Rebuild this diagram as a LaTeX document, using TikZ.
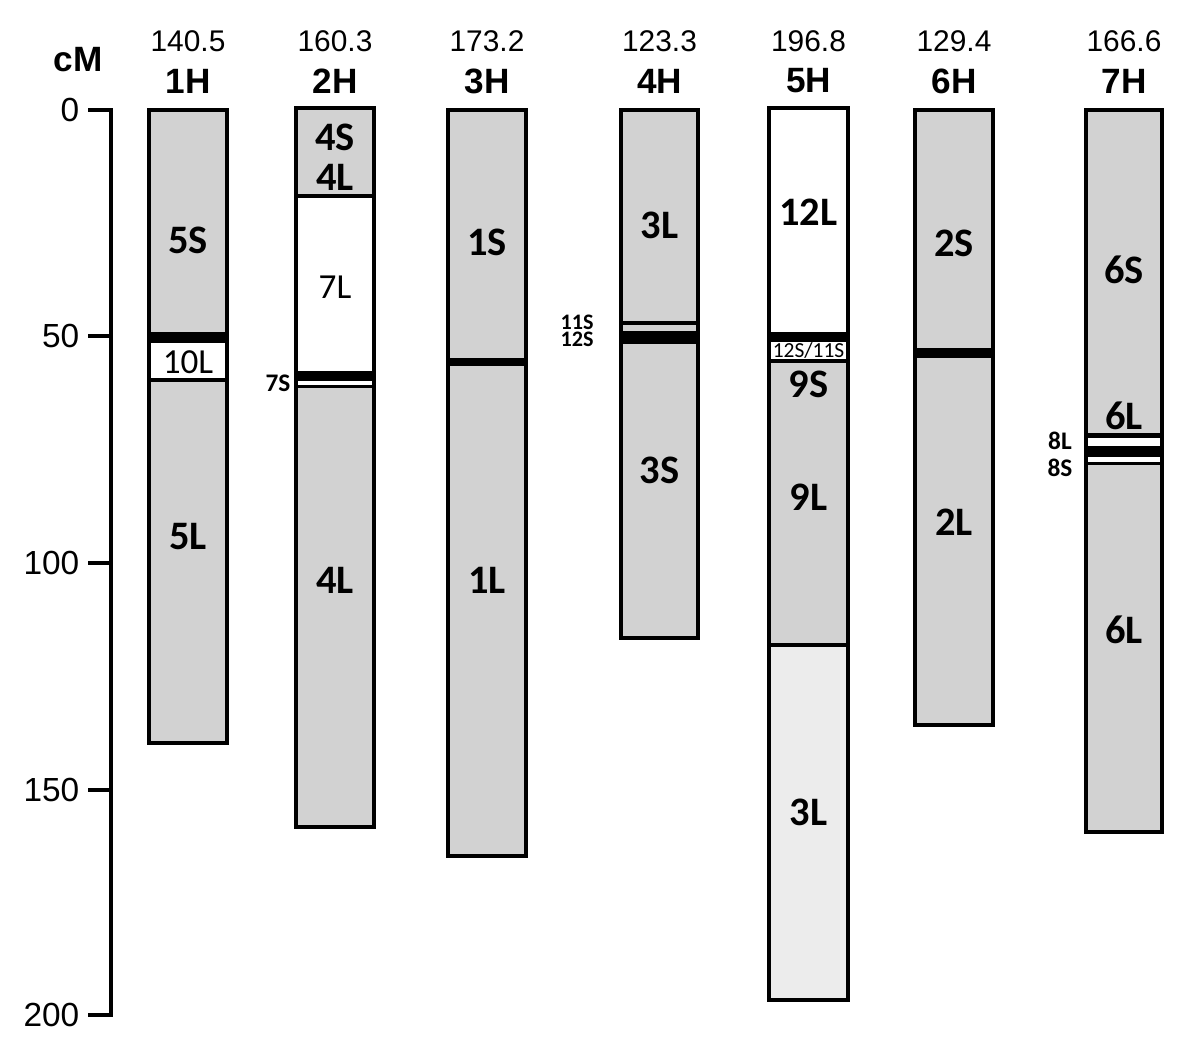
\documentclass[tikz,border=0pt]{standalone}
\usepackage{fontspec}
\setmainfont{Liberation Sans}
\newfontfamily\calibri{Carlito}
\tikzset{
  chrom/.style={line width=1.4pt, black},
  arm/.style={font=\calibri\bfseries\fontsize{11.5}{13}\selectfont, inner sep=0pt},
  armthin/.style={font=\calibri\fontsize{10}{12}\selectfont, inner sep=0pt},
  armsmall/.style={font=\calibri\bfseries\fontsize{7.2}{8}\selectfont, inner sep=0pt},
  armtiny/.style={font=\calibri\bfseries\fontsize{6.3}{7}\selectfont, inner sep=0pt},
  lenlab/.style={font=\fontsize{8.5}{10}\selectfont, inner sep=0pt},
  chrlab/.style={font=\bfseries\fontsize{10}{12}\selectfont, inner sep=0pt},
  axlab/.style={font=\fontsize{9.5}{11}\selectfont, inner sep=0pt, anchor=east},
  band/.style={fill=black},
  gap/.style={fill=white},
}

\begin{document}
\begin{tikzpicture}[x=0.01cm, y=-0.01cm]
  \useasboundingbox (0,0) rectangle (1200,1050);
  % cM axis
  \draw[line width=1.2pt] (88,110) -- (111,110) -- (111,1015) -- (88,1015);
  \foreach \t/\yy in {50/336, 100/563, 150/790}
    \draw[line width=1.2pt] (88,\yy) -- (111,\yy);
  \foreach \t/\yy in {0/110, 50/336, 100/563, 150/790, 200/1015}
    \node[axlab] (tick\t) at (80,\yy) {\t};
  \node[font=\bfseries\fontsize{10}{12}\selectfont, inner sep=0pt] (unit) at (78,60) {cM};
  % chromosome bodies and headers
  \foreach \n/\xl/\xr/\xc/\yt/\yb/\len in {1/149/227/188/110/743/140.5, 2/296/374/335/108/827/160.3,
      3/448/526/487/110/856/173.2, 4/621/698/659.5/110/638/123.3, 5/769/848/808.5/108/1000/196.8,
      6/915/993/954/110/725/129.4, 7/1086/1162/1124/110/832/166.6} {
    \fill[gray!35] (\xl,\yt) rectangle (\xr,\yb);
    \node[lenlab] (len\n) at (\xc,41) {\len};
    \node[chrlab] (chr\n) at (\xc,81) {\n H};
  }
  % 1H
  \fill[band] (149,332) rectangle (227,343);
  \fill[gap] (149,343) rectangle (227,378);
  \fill[band] (149,378) rectangle (227,382);
  \node[arm] (a1s) at (188,240) {5S};
  \node[armthin] (a1w) at (188,362) {10L};
  \node[arm] (a1l) at (188,537) {5L};
  % 2H
  \fill[gap] (296,197) rectangle (374,371);
  \fill[band] (296,194) rectangle (374,198);
  \fill[band] (296,371) rectangle (374,381);
  \fill[gap] (296,381) rectangle (374,385);
  \fill[band] (296,385) rectangle (374,388);
  \node[arm] (a2s) at (335,137) {4S};
  \node[arm] (a2t) at (335,177) {4L};
  \node[armthin] (a2w) at (335,287) {7L};
  \node[armsmall] (a2b) at (278,383) {7S};
  \node[arm] (a2l) at (335,580) {4L};
  % 3H
  \fill[band] (448,358) rectangle (526,366);
  \node[arm] (a3s) at (487,242) {1S};
  \node[arm] (a3l) at (487,580) {1L};
  % 4H
  \fill[band] (621,321) rectangle (698,325);
  \fill[band] (621,331) rectangle (698,344);
  \node[arm] (a4s) at (659.5,225) {3L};
  \node[armtiny] (a4a) at (577,322) {11S};
  \node[armtiny] (a4b) at (577,339) {12S};
  \node[arm] (a4l) at (659.5,470) {3S};
  % 5H
  \fill[gap] (769,108) rectangle (848,332);
  \fill[band] (769,332) rectangle (848,342);
  \fill[gap] (769,342) rectangle (848,359);
  \fill[band] (769,359) rectangle (848,363);
  \fill[band] (769,643) rectangle (848,647);
  \fill[gray!15] (769,647) rectangle (848,1000);
  \node[arm] (a5w) at (808.5,212) {12L};
  \node[font=\calibri\fontsize{6.1}{7}\selectfont, inner sep=0pt] (a5b) at (808.5,350) {12S/11S};
  \node[arm] (a5s) at (808.5,384) {9S};
  \node[arm] (a5l) at (808.5,497) {9L};
  \node[arm] (a5t) at (808.5,812) {3L};
  % 6H
  \fill[band] (915,348) rectangle (993,358);
  \node[arm] (a6s) at (954,243) {2S};
  \node[arm] (a6l) at (954,522) {2L};
  % 7H
  \fill[band] (1086,433) rectangle (1162,438);
  \fill[gap] (1086,438) rectangle (1162,446);
  \fill[band] (1086,446) rectangle (1162,457);
  \fill[gap] (1086,457) rectangle (1162,462);
  \fill[band] (1086,462) rectangle (1162,465);
  \node[arm] (a7s) at (1124,270) {6S};
  \node[arm] (a7m) at (1124,416) {6L};
  \node[armsmall] (a7a) at (1060,441) {8L};
  \node[armsmall] (a7b) at (1060,468) {8S};
  \node[arm] (a7l) at (1124,630) {6L};
  % outlines
  \foreach \xl/\xr/\yt/\yb in {149/227/110/743, 296/374/108/827, 448/526/110/856,
      621/698/110/638, 769/848/108/1000, 915/993/110/725, 1086/1162/110/832}
    \draw[chrom] (\xl,\yt) rectangle (\xr,\yb);
\end{tikzpicture}
\end{document}
